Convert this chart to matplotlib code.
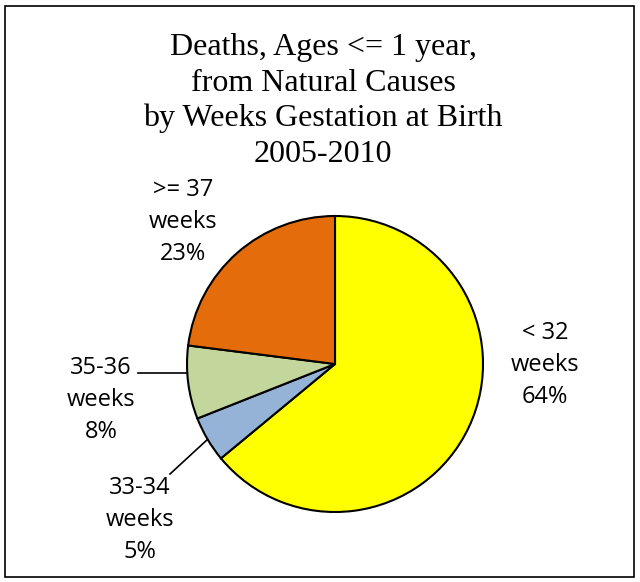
import matplotlib.pyplot as plt
from matplotlib.patches import Rectangle
import numpy as np

# data
categories = ["< 32\nweeks", "33-34\nweeks", "35-36\nweeks", ">= 37\nweeks"]
shares = [64, 5, 8, 23]
colors = ["#FFFF00", "#95B3D7", "#C3D69B", "#E46C0A"]

title = "Deaths, Ages <= 1 year,\nfrom Natural Causes\nby Weeks Gestation at Birth\n2005-2010"

W, H = 640, 582
fig = plt.figure(figsize=(W / 100, H / 100), dpi=100)
ax = fig.add_axes([0, 0, 1, 1])
ax.set_xlim(0, W)
ax.set_ylim(0, H)
ax.set_aspect("equal")
ax.axis("off")

# outer frame
fig.patches.append(Rectangle((5 / W, 5 / H), (W - 11) / W, (H - 11) / H,
                             transform=fig.transFigure, fill=False,
                             edgecolor="black", linewidth=1.2))

cx, cy, r = 335, H - 364, 148
wedges, _ = ax.pie(shares, colors=colors, startangle=90, counterclock=False,
                   center=(cx, cy), radius=r, frame=True,
                   wedgeprops=dict(edgecolor="black", linewidth=1.5))
ax.set_xlim(0, W)
ax.set_ylim(0, H)
ax.axis("off")

# label positions in pixel coords (x, y from top), leader line or not
label_pos = [(545, 365, False), (140, 520, True), (101, 400, True), (183, 222, False)]
font = dict(family=["Open Sans", "DejaVu Sans"], fontsize=17)

for w, cat, s, (lx, ly, leader) in zip(wedges, categories, shares, label_pos):
    txt = f"{cat}\n{s}%"
    ax.text(lx, H - ly, txt, ha="center", va="center", linespacing=1.45, **font)
    if leader:
        if s == 8:
            # leader to the upper part of the green wedge
            ang = np.deg2rad(w.theta1 + 0.37 * (w.theta2 - w.theta1))
            ex, ey = cx + r * np.cos(ang), cy + r * np.sin(ang)
            sx, sy = 138, ey
        else:
            ang = np.deg2rad((w.theta1 + w.theta2) / 2)
            ex, ey = cx + r * np.cos(ang), cy + r * np.sin(ang)
            sx, sy = 170, H - 474
        ax.plot([sx, ex], [sy, ey], color="black", linewidth=1.2)

ax.text(W / 2 + 3, H - 101, title, ha="center", va="center",
        family="Liberation Serif", fontsize=23, linespacing=1.28)

fig.savefig("out.png", dpi=100)
